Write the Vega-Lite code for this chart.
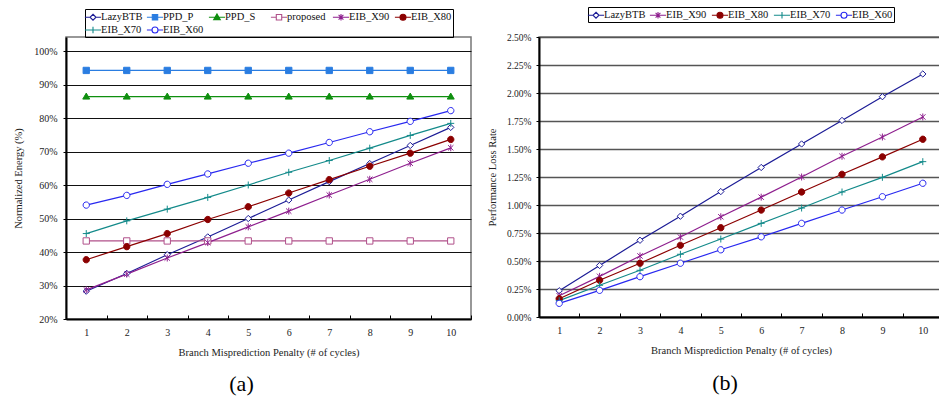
{
  "$schema": "https://vega.github.io/schema/vega-lite/v6.json",
  "padding": {"left": 12, "top": 5, "right": 0, "bottom": 0},
  "background": "white",
  "resolve": {"scale": {"color": "independent", "stroke": "independent", "fill": "independent", "shape": "independent"}, "legend": {"color": "independent", "stroke": "independent", "fill": "independent", "shape": "independent"}},
  "datasets": {
    "a": [
      {"pen":1,"series":"LazyBTB","value":28.3},{"pen":2,"series":"LazyBTB","value":33.6},{"pen":3,"series":"LazyBTB","value":39.2},{"pen":4,"series":"LazyBTB","value":44.5},{"pen":5,"series":"LazyBTB","value":50.0},{"pen":6,"series":"LazyBTB","value":55.5},{"pen":7,"series":"LazyBTB","value":61.0},{"pen":8,"series":"LazyBTB","value":66.4},{"pen":9,"series":"LazyBTB","value":71.8},{"pen":10,"series":"LazyBTB","value":77.2},
      {"pen":1,"series":"PPD_P","value":94.2},{"pen":2,"series":"PPD_P","value":94.2},{"pen":3,"series":"PPD_P","value":94.2},{"pen":4,"series":"PPD_P","value":94.2},{"pen":5,"series":"PPD_P","value":94.2},{"pen":6,"series":"PPD_P","value":94.2},{"pen":7,"series":"PPD_P","value":94.2},{"pen":8,"series":"PPD_P","value":94.2},{"pen":9,"series":"PPD_P","value":94.2},{"pen":10,"series":"PPD_P","value":94.2},
      {"pen":1,"series":"PPD_S","value":86.4},{"pen":2,"series":"PPD_S","value":86.4},{"pen":3,"series":"PPD_S","value":86.4},{"pen":4,"series":"PPD_S","value":86.4},{"pen":5,"series":"PPD_S","value":86.4},{"pen":6,"series":"PPD_S","value":86.4},{"pen":7,"series":"PPD_S","value":86.4},{"pen":8,"series":"PPD_S","value":86.4},{"pen":9,"series":"PPD_S","value":86.4},{"pen":10,"series":"PPD_S","value":86.4},
      {"pen":1,"series":"proposed","value":43.3},{"pen":2,"series":"proposed","value":43.3},{"pen":3,"series":"proposed","value":43.3},{"pen":4,"series":"proposed","value":43.3},{"pen":5,"series":"proposed","value":43.3},{"pen":6,"series":"proposed","value":43.3},{"pen":7,"series":"proposed","value":43.3},{"pen":8,"series":"proposed","value":43.3},{"pen":9,"series":"proposed","value":43.3},{"pen":10,"series":"proposed","value":43.3},
      {"pen":1,"series":"EIB_X90","value":28.7},{"pen":2,"series":"EIB_X90","value":33.4},{"pen":3,"series":"EIB_X90","value":38.2},{"pen":4,"series":"EIB_X90","value":42.8},{"pen":5,"series":"EIB_X90","value":47.5},{"pen":6,"series":"EIB_X90","value":52.2},{"pen":7,"series":"EIB_X90","value":57.0},{"pen":8,"series":"EIB_X90","value":61.7},{"pen":9,"series":"EIB_X90","value":66.5},{"pen":10,"series":"EIB_X90","value":71.1},
      {"pen":1,"series":"EIB_X80","value":37.7},{"pen":2,"series":"EIB_X80","value":41.6},{"pen":3,"series":"EIB_X80","value":45.5},{"pen":4,"series":"EIB_X80","value":49.7},{"pen":5,"series":"EIB_X80","value":53.5},{"pen":6,"series":"EIB_X80","value":57.6},{"pen":7,"series":"EIB_X80","value":61.6},{"pen":8,"series":"EIB_X80","value":65.6},{"pen":9,"series":"EIB_X80","value":69.5},{"pen":10,"series":"EIB_X80","value":73.6},
      {"pen":1,"series":"EIB_X70","value":45.5},{"pen":2,"series":"EIB_X70","value":49.3},{"pen":3,"series":"EIB_X70","value":52.8},{"pen":4,"series":"EIB_X70","value":56.3},{"pen":5,"series":"EIB_X70","value":60.0},{"pen":6,"series":"EIB_X70","value":63.8},{"pen":7,"series":"EIB_X70","value":67.3},{"pen":8,"series":"EIB_X70","value":71.0},{"pen":9,"series":"EIB_X70","value":74.8},{"pen":10,"series":"EIB_X70","value":78.4},
      {"pen":1,"series":"EIB_X60","value":54.0},{"pen":2,"series":"EIB_X60","value":56.9},{"pen":3,"series":"EIB_X60","value":60.2},{"pen":4,"series":"EIB_X60","value":63.3},{"pen":5,"series":"EIB_X60","value":66.5},{"pen":6,"series":"EIB_X60","value":69.5},{"pen":7,"series":"EIB_X60","value":72.7},{"pen":8,"series":"EIB_X60","value":75.9},{"pen":9,"series":"EIB_X60","value":79.0},{"pen":10,"series":"EIB_X60","value":82.2}
    ],
    "b": [
      {"pen":1,"series":"LazyBTB","value":0.234},{"pen":2,"series":"LazyBTB","value":0.46},{"pen":3,"series":"LazyBTB","value":0.685},{"pen":4,"series":"LazyBTB","value":0.9},{"pen":5,"series":"LazyBTB","value":1.12},{"pen":6,"series":"LazyBTB","value":1.335},{"pen":7,"series":"LazyBTB","value":1.545},{"pen":8,"series":"LazyBTB","value":1.755},{"pen":9,"series":"LazyBTB","value":1.967},{"pen":10,"series":"LazyBTB","value":2.17},
      {"pen":1,"series":"EIB_X90","value":0.19},{"pen":2,"series":"EIB_X90","value":0.363},{"pen":3,"series":"EIB_X90","value":0.545},{"pen":4,"series":"EIB_X90","value":0.714},{"pen":5,"series":"EIB_X90","value":0.895},{"pen":6,"series":"EIB_X90","value":1.07},{"pen":7,"series":"EIB_X90","value":1.25},{"pen":8,"series":"EIB_X90","value":1.435},{"pen":9,"series":"EIB_X90","value":1.607},{"pen":10,"series":"EIB_X90","value":1.786},
      {"pen":1,"series":"EIB_X80","value":0.163},{"pen":2,"series":"EIB_X80","value":0.328},{"pen":3,"series":"EIB_X80","value":0.48},{"pen":4,"series":"EIB_X80","value":0.64},{"pen":5,"series":"EIB_X80","value":0.797},{"pen":6,"series":"EIB_X80","value":0.955},{"pen":7,"series":"EIB_X80","value":1.116},{"pen":8,"series":"EIB_X80","value":1.274},{"pen":9,"series":"EIB_X80","value":1.43},{"pen":10,"series":"EIB_X80","value":1.587},
      {"pen":1,"series":"EIB_X70","value":0.146},{"pen":2,"series":"EIB_X70","value":0.283},{"pen":3,"series":"EIB_X70","value":0.417},{"pen":4,"series":"EIB_X70","value":0.56},{"pen":5,"series":"EIB_X70","value":0.696},{"pen":6,"series":"EIB_X70","value":0.836},{"pen":7,"series":"EIB_X70","value":0.973},{"pen":8,"series":"EIB_X70","value":1.116},{"pen":9,"series":"EIB_X70","value":1.247},{"pen":10,"series":"EIB_X70","value":1.387},
      {"pen":1,"series":"EIB_X60","value":0.122},{"pen":2,"series":"EIB_X60","value":0.238},{"pen":3,"series":"EIB_X60","value":0.36},{"pen":4,"series":"EIB_X60","value":0.48},{"pen":5,"series":"EIB_X60","value":0.6},{"pen":6,"series":"EIB_X60","value":0.716},{"pen":7,"series":"EIB_X60","value":0.836},{"pen":8,"series":"EIB_X60","value":0.955},{"pen":9,"series":"EIB_X60","value":1.074},{"pen":10,"series":"EIB_X60","value":1.194}
    ]
  },
  "config": {
    "font": "Liberation Serif",
    "view": {"stroke": "#777", "strokeWidth": 1.5},
    "axis": {"labelFont": "Liberation Serif", "titleFont": "Liberation Serif", "labelColor": "#222", "titleColor": "#222", "titleFontWeight": "normal", "labelFontSize": 10, "titleFontSize": 10.5, "domainColor": "#000", "domainWidth": 2, "tickColor": "#000"},
    "legend": {"labelFont": "Liberation Serif", "labelFontSize": 10.5, "labelColor": "#111", "strokeColor": "#000", "strokeWidth": 1, "padding": 1, "symbolSize": 144, "labelOffset": 1, "columnPadding": 1, "rowPadding": 0, "gridAlign": "all", "symbolStrokeWidth": 1.1, "layout": {"top": {"anchor": "middle"}}},
    "title": {"font": "Liberation Serif", "fontSize": 22, "fontWeight": "normal", "color": "#000"},
    "concat": {"spacing": 13}
  },
  "hconcat": [
    {
      "width": 405, "height": 282,
      "title": {"text": "(a)", "orient": "bottom", "dx": -27, "offset": 16},
      "data": {"name": "a"},
      "resolve": {"scale": {"stroke": "independent", "fill": "independent", "shape": "independent"}, "legend": {"stroke": "independent", "fill": "independent", "shape": "independent"}},
      "encoding": {
        "x": {"field": "pen", "type": "ordinal", "bandPosition": 0.5, "scale": {"type": "band", "paddingInner": 0, "paddingOuter": 0},
              "axis": {"title": "Branch Misprediction Penalty (# of cycles)", "labelAngle": 0, "tickBand": "extent", "tickSize": -4, "labelPadding": 12, "titlePadding": 10, "grid": false}},
        "y": {"field": "value", "type": "quantitative", "scale": {"domain": [20, 104.18], "nice": false, "zero": false},
              "axis": {"title": "Normalized Energy (%)", "values": [20,30,40,50,60,70,80,90,100], "labelExpr": "datum.value + '%'", "grid": true, "gridColor": "#111", "gridWidth": 1, "tickSize": 3, "labelPadding": 6, "titlePadding": 10}}
      },
      "layer": [
        {"mark": {"type": "line", "strokeWidth": 1.2},
         "encoding": {"color": {"field": "series", "type": "nominal", "legend": null,
           "scale": {"domain": ["LazyBTB","PPD_P","PPD_S","proposed","EIB_X90","EIB_X80","EIB_X70","EIB_X60"],
                     "range": ["#1c1c96","#2a7de1","#0f8f0f","#b0508a","#8e1f8e","#8b0000","#138a8a","#2828f0"]}}}},
        {"mark": {"type": "point", "size": 40, "strokeWidth": 1, "opacity": 1},
         "encoding": {
           "stroke": {"field": "series", "type": "nominal", "legend": null,
             "scale": {"domain": ["LazyBTB","PPD_P","PPD_S","proposed","EIB_X90","EIB_X80","EIB_X70","EIB_X60"],
                       "range": ["#1c1c96","#2a7de1","#0f8f0f","#b0508a","#8e1f8e","#8b0000","#138a8a","#2828f0"]}},
           "fill": {"field": "series", "type": "nominal", "legend": null,
             "scale": {"domain": ["LazyBTB","PPD_P","PPD_S","proposed","EIB_X90","EIB_X80","EIB_X70","EIB_X60"],
                       "range": ["white","#2a7de1","#0f8f0f","white","white","#8b0000","white","white"]}},
           "shape": {"field": "series", "type": "nominal", "legend": null,
             "scale": {"domain": ["LazyBTB","PPD_P","PPD_S","proposed","EIB_X90","EIB_X80","EIB_X70","EIB_X60"],
                       "range": ["M0,-1L1,0L0,1L-1,0Z","M-1,-1H1V1H-1Z","M0,-1.1L1.1,0.8H-1.1Z","M-1,-1H1V1H-1Z","M-0.85,-0.85L0.85,0.85M-0.85,0.85L0.85,-0.85M0,-1.1V1.1","M-1,0A1,1,0,1,1,1,0A1,1,0,1,1,-1,0Z","M-1.1,0H1.1M0,-1.1V1.1","M-1,0A1,1,0,1,1,1,0A1,1,0,1,1,-1,0Z"]}}
         }},
        {"transform": [{"filter": "false"}],
         "mark": {"type": "point", "size": 144, "strokeWidth": 1.1, "opacity": 1},
         "encoding": {
           "stroke": {"field": "series", "type": "nominal",
             "scale": {"domain": ["LazyBTB","PPD_P","PPD_S","proposed","EIB_X90","EIB_X80","EIB_X70","EIB_X60"],
                       "range": ["#1c1c96","#2a7de1","#0f8f0f","#b0508a","#8e1f8e","#8b0000","#138a8a","#2828f0"]}},
           "fill": {"field": "series", "type": "nominal",
             "scale": {"domain": ["LazyBTB","PPD_P","PPD_S","proposed","EIB_X90","EIB_X80","EIB_X70","EIB_X60"],
                       "range": ["white","#2a7de1","#0f8f0f","white","white","#8b0000","white","white"]}},
           "shape": {"field": "series", "type": "nominal",
             "scale": {"domain": ["LazyBTB","PPD_P","PPD_S","proposed","EIB_X90","EIB_X80","EIB_X70","EIB_X60"],
                       "range": ["M-1.35,0H-0.5M0.5,0H1.35M0,-0.5L0.5,0L0,0.5L-0.5,0Z","M-1.35,0H1.35M-0.45,-0.45H0.45V0.45H-0.45Z","M-1.35,0H1.35M0,-0.55L0.55,0.4H-0.55Z","M-1.35,0H-0.45M0.45,0H1.35M-0.45,-0.45H0.45V0.45H-0.45Z","M-1.35,0H1.35M-0.4,-0.4L0.4,0.4M-0.4,0.4L0.4,-0.4M0,-0.55V0.55","M-1.35,0H1.35M-0.5,0A0.5,0.5,0,1,1,0.5,0A0.5,0.5,0,1,1,-0.5,0Z","M-1.35,0H1.35M0,-0.55V0.55","M-1.35,0H-0.5M0.5,0H1.35M-0.5,0A0.5,0.5,0,1,1,0.5,0A0.5,0.5,0,1,1,-0.5,0Z"]},
             "legend": {"title": null, "orient": "top", "offset": 0, "direction": "horizontal", "columns": 6, "symbolOpacity": 1}}
         }}
      ]
    },
    {
      "width": 404, "height": 280,
      "title": {"text": "(b)", "orient": "bottom", "dx": -16, "offset": 17},
      "data": {"name": "b"},
      "resolve": {"scale": {"stroke": "independent", "fill": "independent", "shape": "independent"}, "legend": {"stroke": "independent", "fill": "independent", "shape": "independent"}},
      "encoding": {
        "x": {"field": "pen", "type": "ordinal", "bandPosition": 0.5, "scale": {"type": "band", "paddingInner": 0, "paddingOuter": 0},
              "axis": {"title": "Branch Misprediction Penalty (# of cycles)", "labelAngle": 0, "tickBand": "extent", "tickSize": -4, "labelPadding": 12, "titlePadding": 10, "grid": false}},
        "y": {"field": "value", "type": "quantitative", "scale": {"domain": [0, 2.5], "nice": false},
              "axis": {"title": "Performance Loss Rate", "values": [0,0.25,0.5,0.75,1,1.25,1.5,1.75,2,2.25,2.5], "labelExpr": "format(datum.value, '.2f') + '%'", "labelFontSize": 9.5, "grid": true, "gridColor": "#555", "gridWidth": 1.4, "tickSize": 3, "labelPadding": 5, "titlePadding": 9}}
      },
      "layer": [
        {"mark": {"type": "line", "strokeWidth": 1.2},
         "encoding": {"color": {"field": "series", "type": "nominal", "legend": null,
           "scale": {"domain": ["LazyBTB","EIB_X90","EIB_X80","EIB_X70","EIB_X60"],
                     "range": ["#1c1c96","#8e1f8e","#8b0000","#138a8a","#2828f0"]}}}},
        {"mark": {"type": "point", "size": 40, "strokeWidth": 1, "opacity": 1},
         "encoding": {
           "stroke": {"field": "series", "type": "nominal", "legend": null,
             "scale": {"domain": ["LazyBTB","EIB_X90","EIB_X80","EIB_X70","EIB_X60"],
                       "range": ["#1c1c96","#8e1f8e","#8b0000","#138a8a","#2828f0"]}},
           "fill": {"field": "series", "type": "nominal", "legend": null,
             "scale": {"domain": ["LazyBTB","EIB_X90","EIB_X80","EIB_X70","EIB_X60"],
                       "range": ["white","white","#8b0000","white","white"]}},
           "shape": {"field": "series", "type": "nominal", "legend": null,
             "scale": {"domain": ["LazyBTB","EIB_X90","EIB_X80","EIB_X70","EIB_X60"],
                       "range": ["M0,-1L1,0L0,1L-1,0Z","M-0.85,-0.85L0.85,0.85M-0.85,0.85L0.85,-0.85M0,-1.1V1.1","M-1,0A1,1,0,1,1,1,0A1,1,0,1,1,-1,0Z","M-1.1,0H1.1M0,-1.1V1.1","M-1,0A1,1,0,1,1,1,0A1,1,0,1,1,-1,0Z"]}}
         }},
        {"transform": [{"filter": "false"}],
         "mark": {"type": "point", "size": 144, "strokeWidth": 1.1, "opacity": 1},
         "encoding": {
           "stroke": {"field": "series", "type": "nominal",
             "scale": {"domain": ["LazyBTB","EIB_X90","EIB_X80","EIB_X70","EIB_X60"],
                       "range": ["#1c1c96","#8e1f8e","#8b0000","#138a8a","#2828f0"]}},
           "fill": {"field": "series", "type": "nominal",
             "scale": {"domain": ["LazyBTB","EIB_X90","EIB_X80","EIB_X70","EIB_X60"],
                       "range": ["white","white","#8b0000","white","white"]}},
           "shape": {"field": "series", "type": "nominal",
             "scale": {"domain": ["LazyBTB","EIB_X90","EIB_X80","EIB_X70","EIB_X60"],
                       "range": ["M-1.35,0H-0.5M0.5,0H1.35M0,-0.5L0.5,0L0,0.5L-0.5,0Z","M-1.35,0H1.35M-0.4,-0.4L0.4,0.4M-0.4,0.4L0.4,-0.4M0,-0.55V0.55","M-1.35,0H1.35M-0.5,0A0.5,0.5,0,1,1,0.5,0A0.5,0.5,0,1,1,-0.5,0Z","M-1.35,0H1.35M0,-0.55V0.55","M-1.35,0H-0.5M0.5,0H1.35M-0.5,0A0.5,0.5,0,1,1,0.5,0A0.5,0.5,0,1,1,-0.5,0Z"]},
             "legend": {"title": null, "orient": "top", "offset": 15, "direction": "horizontal", "columns": 5, "symbolOpacity": 1}}
         }}
      ]
    }
  ]
}
